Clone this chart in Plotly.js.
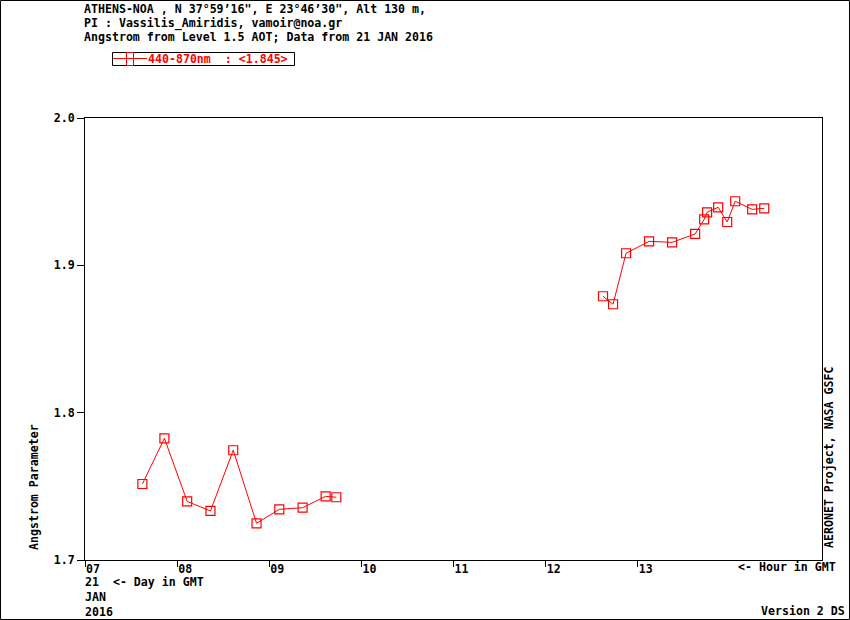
<!DOCTYPE html>
<html>
<head>
<meta charset="utf-8">
<script src="https://cdn.plot.ly/plotly-3.0.1.min.js"></script>
<style>
  html, body { margin: 0; padding: 0; background: #fff; }
  #chart { width: 850px; height: 620px; }
</style>
</head>
<body>
<div id="chart"></div>
<script>
// ---- data ----
var morningHours = [7.623, 7.862, 8.109, 8.362, 8.609, 8.862, 9.109, 9.362, 9.612, 9.728];
var morningAngstrom = [1.7516, 1.7826, 1.7398, 1.7333, 1.7745, 1.7249, 1.7344, 1.7355, 1.7432, 1.7426];
var afternoonHours = [12.623, 12.732, 12.873, 13.123, 13.373, 13.623, 13.721, 13.753, 13.873, 13.971, 14.058, 14.242, 14.373];
var afternoonAngstrom = [1.879, 1.8736, 1.9082, 1.9163, 1.9156, 1.9213, 1.9312, 1.936, 1.9394, 1.9294, 1.9435, 1.938, 1.9387];
var xTickVals = [7, 8, 9, 10, 11, 12, 13];
var xTickText = ['07', '08', '09', '10', '11', '12', '13'];
var yTickVals = [1.7, 1.8, 1.9, 2.0];
var yTickText = ['1.7', '1.8', '1.9', '2.0'];
var titleLines = [
  'ATHENS-NOA , N 37\u00b059\u201916", E 23\u00b046\u201930", Alt 130 m,',
  'PI : Vassilis_Amiridis, vamoir@noa.gr',
  'Angstrom from Level 1.5 AOT; Data from 21 JAN 2016'
];
var legendLabel = '440-870nm  : <1.845>';

// ---- layout geometry ----
var W = 850, H = 620, L = 85, R = 28, T = 118, B = 60;
var PW = W - L - R, PH = H - T - B;
function px(x) { return (x - L) / PW; }
function py(y) { return (H - B - y) / PH; }
var red = '#ff0000';
var FAM = 'DejaVu Sans Mono, Liberation Mono, monospace';
var FS = 11.6;
function f(c) { return { family: FAM, size: FS, weight: 'bold', color: c || '#000' }; }

function esc(s) { return s.replace(/&/g, '&amp;').replace(/</g, '&lt;').replace(/>/g, '&gt;').replace(/ {2}/g, '\u00a0\u00a0'); }

var xs = morningHours.concat([null], afternoonHours);
var ys = morningAngstrom.concat([null], afternoonAngstrom);

var traces = [{
  x: xs, y: ys, type: 'scatter', mode: 'lines+markers',
  connectgaps: false,
  line: { color: red, width: 1 },
  marker: { symbol: 'square-open', size: 9, color: red, line: { color: red, width: 1.2 } },
  showlegend: false, hoverinfo: 'x+y'
}];

var annotations = [];
titleLines.forEach(function (t, i) {
  annotations.push({ xref: 'paper', yref: 'paper', x: px(83), y: py(9 + 14 * i), xanchor: 'left', yanchor: 'middle',
    text: esc(t), showarrow: false, font: f('#000'), borderpad: 0 });
});
annotations.push({ xref: 'paper', yref: 'paper', x: px(147), y: py(58.5), xanchor: 'left', yanchor: 'middle',
  text: esc(legendLabel), showarrow: false, font: f(red), borderpad: 0 });
annotations.push({ xref: 'paper', yref: 'paper', x: px(34), y: py(487), xanchor: 'center', yanchor: 'middle',
  text: 'Angstrom Parameter', textangle: -90, showarrow: false, font: f('#000'), borderpad: 0 });
annotations.push({ xref: 'paper', yref: 'paper', x: px(829), y: py(457), xanchor: 'center', yanchor: 'middle',
  text: 'AERONET Project, NASA GSFC', textangle: -90, showarrow: false, font: f('#000'), borderpad: 0 });
annotations.push({ xref: 'paper', yref: 'paper', x: px(84), y: py(582), xanchor: 'left', yanchor: 'middle',
  text: '21\u00a0\u00a0&lt;- Day in GMT', showarrow: false, font: f('#000'), borderpad: 0 });
annotations.push({ xref: 'paper', yref: 'paper', x: px(84), y: py(597), xanchor: 'left', yanchor: 'middle',
  text: 'JAN', showarrow: false, font: f('#000'), borderpad: 0 });
annotations.push({ xref: 'paper', yref: 'paper', x: px(84), y: py(611.5), xanchor: 'left', yanchor: 'middle',
  text: '2016', showarrow: false, font: f('#000'), borderpad: 0 });
annotations.push({ xref: 'paper', yref: 'paper', x: px(837), y: py(566.5), xanchor: 'right', yanchor: 'middle',
  text: '&lt;- Hour in GMT', showarrow: false, font: f('#000'), borderpad: 0 });
annotations.push({ xref: 'paper', yref: 'paper', x: px(846), y: py(611), xanchor: 'right', yanchor: 'middle',
  text: 'Version 2 DS', showarrow: false, font: f('#000'), borderpad: 0 });

var shapes = [
  // outer frame
  { type: 'rect', xref: 'paper', yref: 'paper', x0: px(0.5), x1: px(849.5), y0: py(0.5), y1: py(619.5),
    line: { color: '#000', width: 1 }, fillcolor: 'rgba(0,0,0,0)' },
  // legend box
  { type: 'rect', xref: 'paper', yref: 'paper', x0: px(112.5), x1: px(294.5), y0: py(52.5), y1: py(65.5),
    line: { color: '#000', width: 1 }, fillcolor: 'rgba(0,0,0,0)' },
  { type: 'line', xref: 'paper', yref: 'paper', x0: px(113), x1: px(147), y0: py(58.5), y1: py(58.5),
    line: { color: red, width: 1 } },
  { type: 'rect', xref: 'paper', yref: 'paper', x0: px(126.5), x1: px(133.5), y0: py(52.5), y1: py(65.5),
    line: { color: red, width: 1 }, fillcolor: 'rgba(0,0,0,0)' }
];

var layout = {
  width: W, height: H,
  margin: { l: L, r: R, t: T, b: B, pad: 0 },
  paper_bgcolor: '#fff', plot_bgcolor: '#fff',
  font: f('#000'),
  showlegend: false,
  xaxis: {
    range: [7, 15], showgrid: false, zeroline: false,
    showline: true, mirror: true, linecolor: '#000', linewidth: 1,
    ticks: 'outside', ticklen: 6, tickcolor: '#000', tickwidth: 1,
    tickvals: xTickVals, ticktext: xTickText,
    tickfont: f('#000'), ticklabelshift: 8, ticklabelstandoff: -8
  },
  yaxis: {
    range: [1.7, 2.0], showgrid: false, zeroline: false,
    showline: true, mirror: true, linecolor: '#000', linewidth: 1,
    ticks: 'outside', ticklen: 7, tickcolor: '#000', tickwidth: 1,
    tickvals: yTickVals, ticktext: yTickText,
    tickfont: f('#000')
  },
  annotations: annotations,
  shapes: shapes
};

Plotly.newPlot('chart', traces, layout, { staticPlot: true, displayModeBar: false });
</script>
</body>
</html>
